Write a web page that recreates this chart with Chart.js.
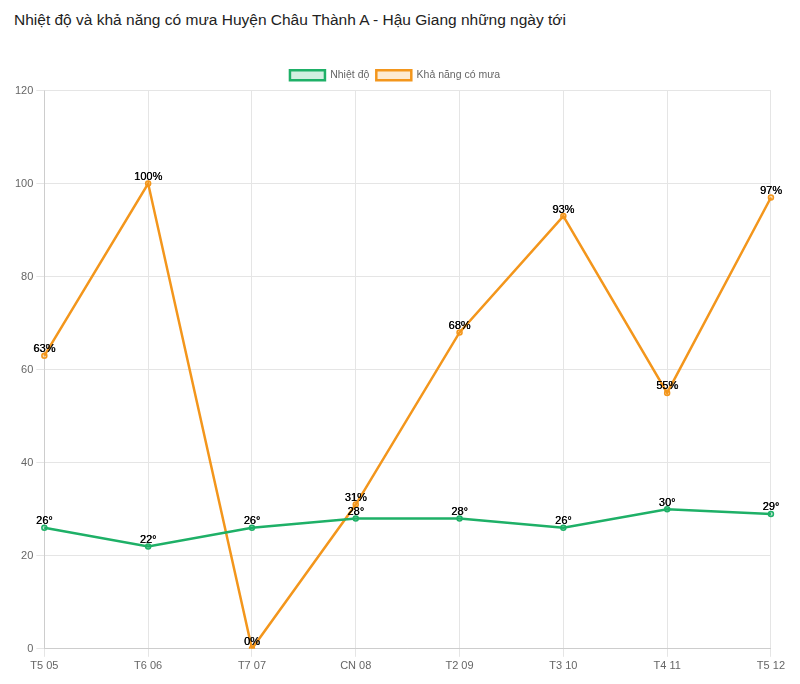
<!DOCTYPE html>
<html><head><meta charset="utf-8">
<script src="https://cdn.jsdelivr.net/npm/chart.js@4"></script>
<style>
html,body{margin:0;padding:0;background:#fff;}
h1{position:absolute;left:14px;top:11px;margin:0;font:15.5px "Liberation Sans",Arial,sans-serif;color:#222;}
#wrap{position:absolute;left:12px;top:59px;width:776px;height:617px;}
</style></head><body>
<h1>Nhiệt độ và khả năng có mưa Huyện Châu Thành A - Hậu Giang những ngày tới</h1>
<div id="wrap"><canvas id="c"></canvas></div>
<script>
const categories = ["T5 05","T6 06","T7 07","CN 08","T2 09","T3 10","T4 11","T5 12"];
const temperature = [26,22,26,28,28,26,30,29];
const rainChance = [63,100,0,31,68,93,55,97];
const yTicks = [0,20,40,60,80,100,120];

const labelPlugin = {
  id:'pointLabels',
  afterDatasetsDraw(chart){
    const ctx = chart.ctx;
    ctx.save();
    ctx.font = '11px "Liberation Sans", Arial, sans-serif';
    ctx.fillStyle = '#000';
    ctx.textAlign = 'center';
    ctx.textBaseline = 'bottom';
    chart.data.datasets.forEach((ds,i)=>{
      const meta = chart.getDatasetMeta(i);
      meta.data.forEach((pt,j)=>{
        const v = ds.data[j];
        const txt = v + (ds.suffix);
        ctx.fillText(txt, pt.x, pt.y - 1);
        ctx.fillText(txt, pt.x + 0.3, pt.y - 1);
      });
    });
    ctx.restore();
  }
};

new Chart(document.getElementById('c'),{
  type:'line',
  data:{
    labels:categories,
    datasets:[
      {label:'Nhiệt độ',data:temperature,suffix:'°',borderColor:'#1eb067',backgroundColor:'rgba(30,176,103,0.2)',borderWidth:2.5,pointRadius:2.5,pointBorderWidth:1.5,pointBackgroundColor:'rgba(30,176,103,0.3)',tension:0},
      {label:'Khả năng có mưa',data:rainChance,suffix:'%',borderColor:'#f3961c',backgroundColor:'rgba(243,150,28,0.2)',borderWidth:2.5,pointRadius:2.5,pointBorderWidth:1.5,pointBackgroundColor:'rgba(243,150,28,0.3)',tension:0}
    ]
  },
  options:{
    responsive:true,maintainAspectRatio:false,animation:false,
    layout:{padding:{right:10,top:4}},
    plugins:{
      legend:{labels:{font:{size:10.5,family:'"Liberation Sans", Arial, sans-serif'},color:'#666',boxWidth:35,boxHeight:10,padding:7}},
      tooltip:{enabled:false}
    },
    scales:{
      x:{ticks:{color:'#666',font:{size:11}},grid:{color:'#e5e5e5'}},
      y:{min:0,max:120,afterBuildTicks(s){s.ticks=yTicks.map(v=>({value:v}));},ticks:{color:'#666',font:{size:11}},grid:{color:'#e5e5e5'}}
    }
  },
  plugins:[labelPlugin]
});
</script>
</body></html>
